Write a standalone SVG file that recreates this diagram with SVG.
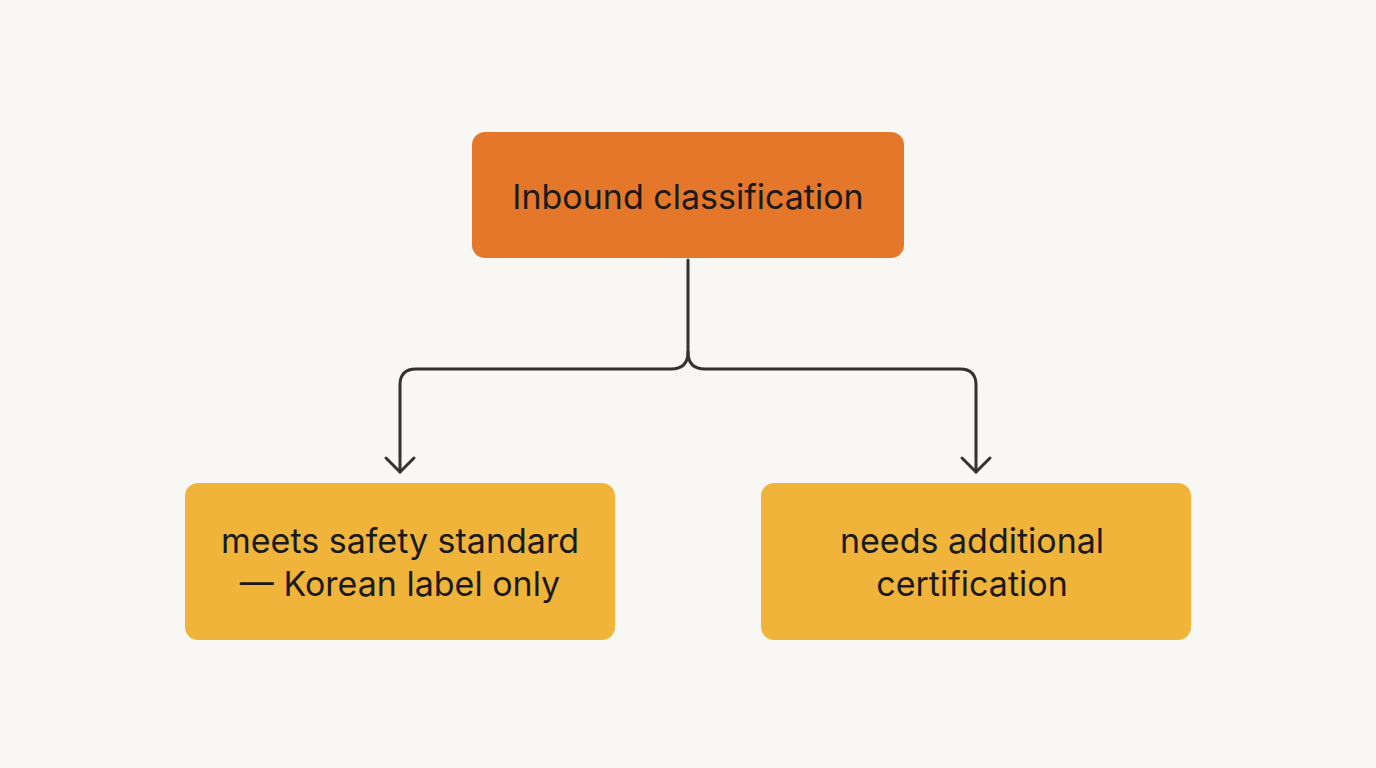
<svg xmlns="http://www.w3.org/2000/svg" width="1376" height="768" viewBox="0 0 1376 768">
<defs>
<style>
.lbl{font-family:Inter,"Noto Sans","Liberation Sans",sans-serif;font-size:34px;fill:#1a1a1a;text-anchor:middle}
.conn{fill:none;stroke:#333333;stroke-width:3;stroke-linecap:round;stroke-linejoin:round}
</style>
</defs>
<rect width="1376" height="768" fill="#F8F7F3"/>
<g id="connectors">
<path class="conn" d="M688 260 V352 Q688 369 671 369 H416 Q400 369 400 385 V472"/>
<path class="conn" d="M688 352 Q688 369 705 369 H960 Q976 369 976 385 V472"/>
<path class="conn" d="M386 458 L400 472 L414 458"/>
<path class="conn" d="M962 458 L976 472 L990 458"/>
</g>
<g id="node-root">
<rect x="472" y="132" width="432" height="126" rx="13" fill="#E5772B"/>
<text class="lbl" x="688" y="209">Inbound classification</text>
</g>
<g id="node-meets">
<rect x="185" y="483" width="430" height="157" rx="13" fill="#F0B43A"/>
<text class="lbl" x="400" y="553">meets safety standard</text>
<text class="lbl" x="400" y="596">— Korean label only</text>
</g>
<g id="node-needs">
<rect x="761" y="483" width="430" height="157" rx="13" fill="#F0B43A"/>
<text class="lbl" x="972" y="553">needs additional</text>
<text class="lbl" x="972" y="596">certification</text>
</g>
</svg>
